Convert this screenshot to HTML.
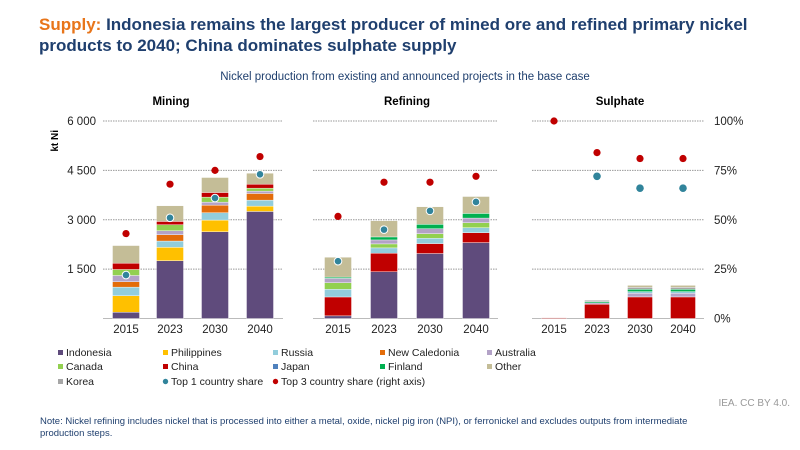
<!DOCTYPE html>
<html><head><meta charset="utf-8"><style>
body{margin:0;width:800px;height:445px;background:#fff;font-family:"Liberation Sans",Arial,sans-serif;overflow:hidden}
svg text{font-family:"Liberation Sans",Arial,sans-serif}
</style></head><body>
<svg id="c" width="800" height="445" xmlns="http://www.w3.org/2000/svg">
<text x="39" y="30" font-size="17" font-weight="bold" fill="#1f3f6e"><tspan fill="#e8751a">Supply:</tspan> Indonesia remains the largest producer of mined ore and refined primary nickel</text>
<text x="39" y="51" font-size="17" font-weight="bold" fill="#1f3f6e">products to 2040; China dominates sulphate supply</text>
<text x="405" y="80" font-size="11.5" fill="#1f3f6e" text-anchor="middle">Nickel production from existing and announced projects in the base case</text>
<text x="171" y="105" font-size="11.5" font-weight="bold" text-anchor="middle">Mining</text>
<text x="407" y="105" font-size="11.5" font-weight="bold" text-anchor="middle">Refining</text>
<text x="620" y="105" font-size="11.5" font-weight="bold" text-anchor="middle">Sulphate</text>
<text transform="translate(58,130) rotate(-90)" font-size="10" font-weight="bold" text-anchor="end">kt Ni</text>
<g id="plot"></g>
<g id="legend"></g>
<text x="790" y="406" font-size="10" fill="#999" text-anchor="end">IEA. CC BY 4.0.</text>
<text x="40" y="424" font-size="9.5" fill="#1f3f6e">Note: Nickel refining includes nickel that is processed into either a metal, oxide, nickel pig iron (NPI), or ferronickel and excludes outputs from intermediate</text>
<text x="40" y="436" font-size="9.5" fill="#1f3f6e">production steps.</text>
</svg>
<script>
const years=["2015","2023","2030","2040"];
const series=["Indonesia","Philippines","Russia","New Caledonia","Australia","Canada","China","Japan","Finland","Other","Korea"];
const colors=["#5f4b7c","#ffc000","#92cddc","#e36c0a","#b3a2c7","#92d050","#c00000","#4f81bd","#00b050","#c4bd97","#a6a6a6"];
const miningIndonesia=[190,1757,2636,3252];
const miningPhilippines=[500,404,354,162];
const miningRussia=[263,192,222,182];
const miningNewCaledonia=[162,192,232,202];
const miningAustralia=[192,121,91,71];
const miningCanada=[182,182,152,91];
const miningChina=[192,101,141,121];
const miningOther=[535,475,455,333];
const miningTop1=[22,51,61,73];
const miningTop3=[43,68,75,82];
const refIndonesia=[80,1420,1974,2306];
const refChina=[574,564,302,302];
const refRussia=[232,161,161,151];
const refCanada=[201,121,141,151];
const refAustralia=[131,121,151,141];
const refFinland=[40,91,131,141];
const refOther=[604,493,534,514];
const refTop1=[29,45,54.5,59];
const refTop3=[51.7,69,69,72];
const sulChina=[20,433,655,655];
const sulAustralia=[0,40,111,111];
const sulRussia=[0,0,50,50];
const sulFinland=[0,40,70,70];
const sulKorea=[0,40,60,60];
const sulOther=[0,0,60,60];
const sulTop1=[null,72,66,66];
const sulTop3=[100,84,81,81];
const leftTicks=["0","1 500","3 000","4 500","6 000"];
const leftTickVals=[0,1500,3000,4500,6000];
const rightTicks=["0%","25%","50%","75%","100%"];
const rightTickVals=[0,25,50,75,100];

const NS="http://www.w3.org/2000/svg";
const plot=document.getElementById('plot');
const y0=318.5,y1=121;
const yK=v=>y0-(v/6000)*(y0-y1);
const yP=v=>y0-(v/100)*(y0-y1);
function el(t,a,p){const e=document.createElementNS(NS,t);for(const k in a)e.setAttribute(k,a[k]);(p||plot).appendChild(e);return e;}
const panels=[
 {key:"mining",x0:103,x1:283,centers:[126,170,215,260],bw:27,stack:[[0,miningIndonesia],[1,miningPhilippines],[2,miningRussia],[3,miningNewCaledonia],[4,miningAustralia],[5,miningCanada],[6,miningChina],[9,miningOther]],t1:miningTop1,t3:miningTop3},
 {key:"refining",x0:313,x1:498,centers:[338,384,430,476],bw:27,stack:[[0,refIndonesia],[6,refChina],[2,refRussia],[5,refCanada],[4,refAustralia],[8,refFinland],[9,refOther]],t1:refTop1,t3:refTop3},
 {key:"sulphate",x0:532,x1:704,centers:[554,597,640,683],bw:25,stack:[[6,sulChina],[4,sulAustralia],[2,sulRussia],[8,sulFinland],[10,sulKorea],[9,sulOther]],t1:sulTop1,t3:sulTop3}
];
panels.forEach(p=>{
  leftTickVals.forEach(v=>{if(v>0){const g=el('line',{x1:p.x0,x2:p.x1,y1:yK(v),y2:yK(v),stroke:'#999','stroke-dasharray':'1.5,1','stroke-width':1});
    
    }});
  const ax=el('line',{x1:p.x0,x2:p.x1,y1:y0,y2:y0,stroke:'#bbb','stroke-width':1});
  
  
  years.forEach((yr,i)=>{
    let acc=0;const cx=p.centers[i];
    p.stack.forEach(([si,arr])=>{const v=arr[i];if(!v)return;
      const r=el('rect',{x:cx-p.bw/2,y:yK(acc+v),width:p.bw,height:yK(acc)-yK(acc+v),fill:colors[si],stroke:'#fff','stroke-width':0.4});
      
      
      acc+=v;});
    const t=el('text',{x:cx,y:333,'font-size':11.5,'text-anchor':'middle',fill:'#222'});t.textContent=yr;
    
    
    if(p.t3[i]!=null){const c=el('circle',{cx:cx,cy:yP(p.t3[i]),r:3.6,fill:'#c00000'});
      
      }
    if(p.t1[i]!=null){const c=el('circle',{cx:cx,cy:yP(p.t1[i]),r:3.8,fill:'#31849b',stroke:p.key=='sulphate'?'none':'#fff','stroke-width':1});
      
      }
  });
});
leftTickVals.forEach((v,i)=>{if(v===0)return;const t=el('text',{x:96,y:yK(v)+4,'font-size':11.5,'text-anchor':'end',fill:'#222'});t.textContent=leftTicks[i];
  
  });
rightTickVals.forEach((v,i)=>{const t=el('text',{x:714,y:yP(v)+4,'font-size':11.5,fill:'#222'});t.textContent=rightTicks[i];
  
  });
const lg=document.getElementById('legend');
const legItems=[["Indonesia",0],["Philippines",1],["Russia",2],["New Caledonia",3],["Australia",4],["Canada",5],["China",6],["Japan",7],["Finland",8],["Other",9],["Korea",10],["Top 1 country share",-1],["Top 3 country share (right axis)",-2]];
const colX=[58,163,273,380,487],rowY=[356,370,385];
legItems.forEach(([name,si],k)=>{
  const x=colX[k%5],y=rowY[Math.floor(k/5)];
  const g=el('g',{},lg);
  
  
  if(si>=0)el('rect',{x:x,y:y-6,width:5,height:5,fill:colors[si]},g);
  else el('circle',{cx:x+2.5,cy:y-3.5,r:2.7,fill:si==-1?'#31849b':'#c00000'},g);
  const t=el('text',{x:x+8,y:y,'font-size':10.5,fill:'#222'},g);t.textContent=name;
});
</script>
</body></html>
